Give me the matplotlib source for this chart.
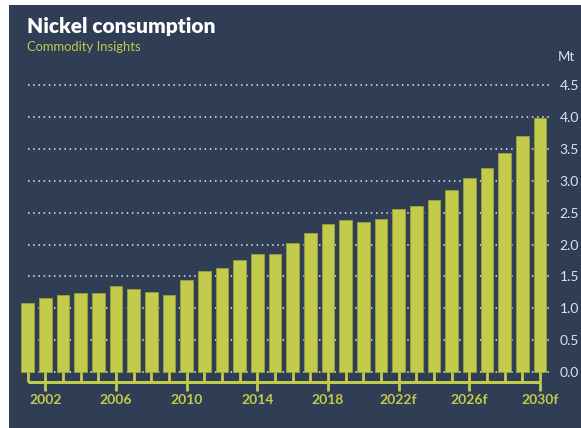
import matplotlib
matplotlib.use("Agg")
import matplotlib.pyplot as plt
from matplotlib.patches import Rectangle

# --- DATI ---
anni = list(range(2001, 2031))
consumo = [1.09, 1.16, 1.21, 1.235, 1.235, 1.355, 1.30, 1.255, 1.21, 1.44,
           1.59, 1.64, 1.76, 1.85, 1.85, 2.03, 2.18, 2.33, 2.38, 2.35,
           2.40, 2.56, 2.61, 2.70, 2.85, 3.04, 3.20, 3.43, 3.70, 3.99]
anni_etichette = [2002, 2006, 2010, 2014, 2018, 2022, 2026, 2030]
testi_etichette = ["2002", "2006", "2010", "2014", "2018", "2022f", "2026f", "2030f"]
valori_y = [0.0, 0.5, 1.0, 1.5, 2.0, 2.5, 3.0, 3.5, 4.0, 4.5]

# --- STILE ---
SFONDO = "#2f3d55"
VERDE = "#c3cb4d"
BORDO = "#979d3c"
GRIGIO = "#dfe3ea"
plt.rcParams["font.family"] = ["Lato", "DejaVu Sans"]

fig = plt.figure(figsize=(5.81, 4.28), dpi=100, facecolor="white")
fig.patches.append(Rectangle((9 / 581, 0), 1, (428 - 5) / 428,
                             transform=fig.transFigure, facecolor=SFONDO,
                             linewidth=0, zorder=-5))

ax = fig.add_axes([10 / 581, 17.8 / 428, 540 / 581, 340.8 / 428])
ax.set_facecolor("none")
ax.set_xlim(2000.0, 2030.57)
ax.set_ylim(-0.6, 4.75)

# griglia punteggiata
ax.hlines(valori_y, 2001, 2030.6, colors="#e6e8ee", linestyles=(0, (1, 2.4)),
          linewidth=1.1, zorder=1)

ax.bar(anni, consumo, width=0.72, color=VERDE, edgecolor=BORDO,
       linewidth=0.7, zorder=2)

# asse x disegnato a mano: stanghette sotto ogni barra
ax.vlines(anni, 0, -0.155, colors=VERDE, linewidth=2, zorder=2)
ax.hlines(-0.155, anni[0], anni[-1], colors=VERDE, linewidth=2.2, zorder=2)
ax.vlines(anni_etichette, -0.155, -0.30, colors=VERDE, linewidth=2, zorder=2)
for a, t in zip(anni_etichette, testi_etichette):
    ax.text(a, -0.44, t, ha="center", va="center", color=VERDE,
            fontsize=10, fontweight="bold")

for s in ax.spines.values():
    s.set_visible(False)
ax.set_xticks([])
ax.yaxis.tick_right()
ax.set_yticks(valori_y)
ax.set_yticklabels([f"{v:.1f}" for v in valori_y])
ax.tick_params(axis="y", length=0, pad=7, labelsize=10, labelcolor=GRIGIO)

fig.text(27 / 581, 1 - 27 / 428, "Nickel consumption", color="white",
         fontsize=15, fontweight="heavy", va="center", ha="left")
fig.text(27 / 581, 1 - 47 / 428, "Commodity Insights", color=VERDE,
         fontsize=9.4, va="center", ha="left")
fig.text(558 / 581, 1 - 57 / 428, "Mt", color=GRIGIO, fontsize=9.5,
         va="center", ha="left")

fig.savefig("out.png", dpi=100, facecolor=fig.get_facecolor())
